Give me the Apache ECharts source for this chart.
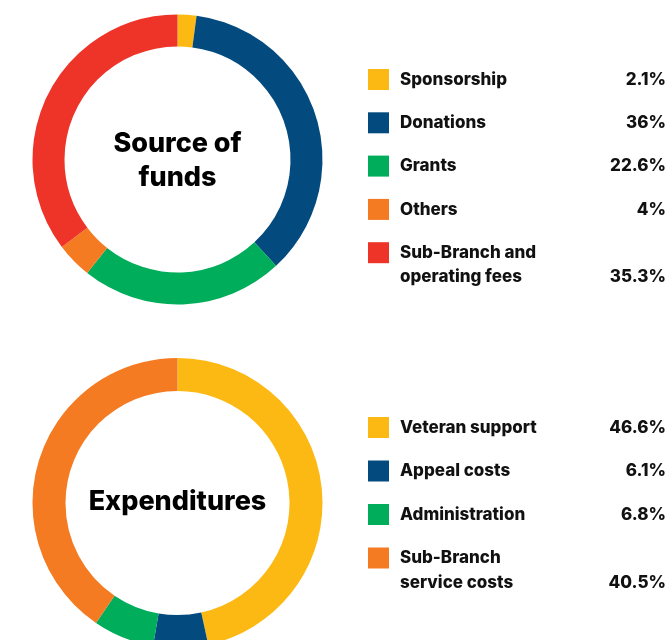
<!DOCTYPE html>
<html>
<head>
<meta charset="utf-8">
<script src="https://cdn.jsdelivr.net/npm/echarts@6/dist/echarts.min.js"></script>
<style>
  html, body { margin: 0; padding: 0; background: #ffffff; }
  #chart { width: 669px; height: 640px; }
</style>
</head>
<body>
<div id="chart"></div>
<script>
// Source of funds
const fundCategories = ['Sponsorship', 'Donations', 'Grants', 'Others', 'Sub-Branch and\noperating fees'];
const fundValues = [2.1, 36, 22.6, 4, 35.3];
const fundLabels = ['2.1%', '36%', '22.6%', '4%', '35.3%'];

// Expenditures
const expCategories = ['Veteran support', 'Appeal costs', 'Administration', 'Sub-Branch\nservice costs'];
const expValues = [46.6, 6.1, 6.8, 40.5];
const expLabels = ['46.6%', '6.1%', '6.8%', '40.5%'];

const fundColors = ['#FDB913', '#034A7E', '#00AD5A', '#F47B22', '#EE3428'];
const expColors = ['#FDB913', '#034A7E', '#00AD5A', '#F47B22'];

const FONT = 'Inter, "Noto Sans", sans-serif';

function pieData(cats, vals, colors) {
  return cats.map((c, i) => ({ name: c, value: vals[i], itemStyle: { color: colors[i] } }));
}

// Legend rows: square, name (may wrap to two lines), value aligned to last line
function legendGraphics(cats, labels, colors, firstTop, step) {
  const els = [];
  cats.forEach((c, i) => {
    const top = firstTop + i * step;
    const lines = c.split('\n');
    els.push({
      type: 'rect',
      shape: { x: 368, y: top, width: 21, height: 21 },
      style: { fill: colors[i] },
      silent: true
    });
    lines.forEach((ln, k) => {
      els.push({
        type: 'text',
        x: 400, y: top + 10.5 + k * 24.5,
        style: {
          text: ln, fill: '#111111', font: '800 17px ' + FONT,
          textAlign: 'left', textVerticalAlign: 'middle'
        },
        silent: true
      });
    });
    els.push({
      type: 'text',
      x: 666, y: top + 10.5 + (lines.length - 1) * 24.5,
      style: {
        text: labels[i], fill: '#111111', font: '800 17px ' + FONT,
        textAlign: 'right', textVerticalAlign: 'middle'
      },
      silent: true
    });
  });
  return els;
}

const chart = echarts.init(document.getElementById('chart'), null, { renderer: 'canvas' });

const graphics = [
  {
    type: 'text', x: 177.5, y: 161,
    style: {
      text: 'Source of\nfunds', fill: '#000000', font: '800 27px ' + FONT,
      textAlign: 'center', textVerticalAlign: 'middle', lineHeight: 34
    },
    silent: true
  },
  {
    type: 'text', x: 177.5, y: 502,
    style: {
      text: 'Expenditures', fill: '#000000', font: '800 27px ' + FONT,
      textAlign: 'center', textVerticalAlign: 'middle'
    },
    silent: true
  }
].concat(
  legendGraphics(fundCategories, fundLabels, fundColors, 69, 43.3),
  legendGraphics(expCategories, expLabels, expColors, 417, 43.5)
);

chart.setOption({
  animation: false,
  backgroundColor: '#ffffff',
  graphic: graphics,
  series: [
    {
      type: 'pie',
      center: [177.5, 159.5],
      radius: [113, 145],
      startAngle: 90,
      clockwise: true,
      label: { show: false },
      labelLine: { show: false },
      emphasis: { disabled: true },
      silent: true,
      data: pieData(fundCategories, fundValues, fundColors)
    },
    {
      type: 'pie',
      center: [177.5, 503],
      radius: [112, 145],
      startAngle: 90,
      clockwise: true,
      label: { show: false },
      labelLine: { show: false },
      emphasis: { disabled: true },
      silent: true,
      data: pieData(expCategories, expValues, expColors)
    }
  ]
});
</script>
</body>
</html>
